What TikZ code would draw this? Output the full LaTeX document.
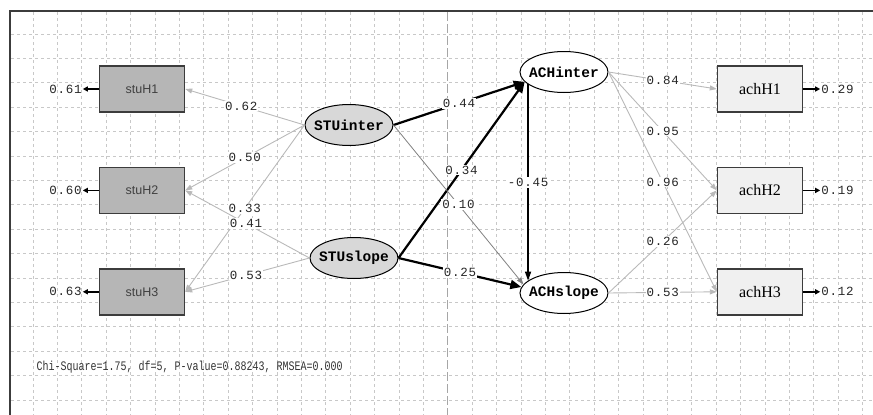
\documentclass[tikz,border=0pt]{standalone}
\usepackage{fontspec}
\setmainfont{Liberation Serif}
\newfontfamily\monofont{Liberation Mono}
\newfontfamily\valfont[LetterSpace=6]{Liberation Mono}
\newfontfamily\boxfont{Liberation Sans}
\newfontfamily\achfont{Liberation Serif}
\usetikzlibrary{arrows.meta, positioning, shapes.geometric}

\definecolor{stufill}{RGB}{182,182,182}
\definecolor{latfill}{RGB}{216,216,216}
\definecolor{achfill}{RGB}{240,240,240}
\definecolor{boxline}{RGB}{60,60,60}
\definecolor{gridcol}{RGB}{200,200,200}
\definecolor{loadcol}{RGB}{185,185,185}

\begin{document}
\begin{tikzpicture}[x=1pt, y=-1pt]
        % Styles
        \tikzstyle{gridline} = [gridcol, line width=0.7pt, dash pattern=on 3pt off 3pt]
        \tikzstyle{stuind} = [draw=boxline, line width=1.4pt, fill=stufill, minimum width=85pt, minimum height=46pt,
                              text=black!75, font={\boxfont\fontsize{12.5}{14}\selectfont}]
        \tikzstyle{achind} = [draw=boxline, line width=1.4pt, fill=achfill, minimum width=85pt, minimum height=46pt,
                              font={\achfont\fontsize{16}{18}\selectfont}]
        \tikzstyle{latent} = [draw, ellipse, line width=1pt, minimum width=88pt, minimum height=41pt,
                              inner xsep=-7pt, inner ysep=0pt,
                              font={\monofont\bfseries\fontsize{14.5}{16}\selectfont}]
        \tikzstyle{coef} = [fill=white, inner sep=1pt, text=black!85, font={\valfont\fontsize{12.5}{14}\selectfont}]
        \tikzstyle{errval} = [inner sep=1pt, text=black!85, font={\valfont\fontsize{12.5}{14}\selectfont}]
        \tikzstyle{loadarrow} = [-{Triangle[length=7pt, width=5pt]}, loadcol, line width=0.9pt]
        \tikzstyle{patharrow} = [-{Triangle[length=11pt, width=9pt]}, black, line width=2.2pt]
        \tikzstyle{thinpath} = [-{Triangle[length=7pt, width=5pt]}, gray, line width=0.8pt]
        \tikzstyle{errarrow} = [-{Triangle[length=5pt, width=5pt]}, black, line width=1.6pt]

        \useasboundingbox (0,0) rectangle (873,415);

        % Background grid and frame
        \foreach \gx in {0,...,34} {
            \draw[gridline] ({33+24.4*\gx},12) -- ({33+24.4*\gx},415);
        }
        \foreach \gy in {0,...,15} {
            \draw[gridline] (11,{34+24.4*\gy}) -- (873,{34+24.4*\gy});
        }
        \draw[gray!70, line width=0.8pt, dash pattern=on 9pt off 3pt] (447.8,12) -- (447.8,415);
        \draw[boxline, line width=1.2pt] (10,415) -- (10,11) -- (873,11);

        % Student indicators - stacked with below=... of
        \node[stuind] (stuH1) at (142,89) {stuH1};
        \node[stuind, below=54pt of stuH1] (stuH2) {stuH2};
        \node[stuind, below=54pt of stuH2] (stuH3) {stuH3};

        % Achievement indicators
        \node[achind] (achH1) at (760,89) {achH1};
        \node[achind, below=54pt of achH1] (achH2) {achH2};
        \node[achind, below=54pt of achH2] (achH3) {achH3};

        % Latent growth factors
        \node[latent, fill=latfill] (STUinter) at (349,125) {STUinter};
        \node[latent, fill=latfill] (STUslope) at (354,258) {STUslope};
        \node[latent, fill=white] (ACHinter) at (564,72) {ACHinter};
        \node[latent, fill=white] (ACHslope) at (564,293) {ACHslope};

        % Error variances
        \node[errval, left=16pt of stuH1] (e1) {0.61};
        \node[errval, left=16pt of stuH2] (e2) {0.60};
        \node[errval, left=16pt of stuH3] (e3) {0.63};
        \node[errval, right=17pt of achH1] (d1) {0.29};
        \node[errval, right=17pt of achH2] (d2) {0.19};
        \node[errval, right=17pt of achH3] (d3) {0.12};
        \draw[errarrow] (stuH1.west) -- (e1.east);
        \draw[errarrow] (stuH2.west) -- (e2.east);
        \draw[errarrow] (stuH3.west) -- (e3.east);
        \draw[errarrow] (achH1.east) -- (d1.west);
        \draw[errarrow] (achH2.east) -- (d2.west);
        \draw[errarrow] (achH3.east) -- (d3.west);

        % Loadings of the student factors
        \draw[loadarrow] (STUinter.west) -- node[coef, pos=0.53] {0.62} (stuH1.east);
        \draw[loadarrow] (STUinter.west) -- node[coef, pos=0.5] {0.50} (stuH2.east);
        \draw[loadarrow] (STUinter.west) -- node[coef, pos=0.5] {0.33} (stuH3.east);
        \draw[loadarrow] (STUslope.west) -- node[coef, pos=0.51] {0.41} (stuH2.east);
        \draw[loadarrow] (STUslope.west) -- node[coef, pos=0.51] {0.53} (stuH3.east);

        % Loadings of the achievement factors
        \draw[loadarrow] (ACHinter.east) -- node[coef] {0.84} (achH1.west);
        \draw[loadarrow] (ACHinter.east) -- node[coef] {0.95} (achH2.west);
        \draw[loadarrow] (ACHinter.east) -- node[coef] {0.96} (achH3.west);
        \draw[loadarrow] (ACHslope.east) -- node[coef] {0.26} (achH2.west);
        \draw[loadarrow] (ACHslope.east) -- node[coef] {0.53} (achH3.west);

        % Structural paths
        \draw[patharrow] (STUinter.east) -- node[coef] {0.44} (ACHinter.194);
        \draw[patharrow] (STUslope.east) -- node[coef] {0.34} (ACHinter.194);
        \draw[thinpath] (STUinter.east) -- node[coef] {0.10} (ACHslope.168);
        \draw[patharrow] (STUslope.east) -- node[coef] {0.25} (ACHslope.172);
        \draw[-{Triangle[length=9pt, width=6pt]}, black, line width=1.5pt]
            (ACHinter.199) -- node[coef] {-0.45} (ACHslope.161);

        % Fit statistics
        \node[anchor=west, text=black!80, font={\monofont\fontsize{10}{12}\selectfont}] (fitstats) at (33,367)
            {\scalebox{1}[1.3]{Chi-Square=1.75, df=5, P-value=0.88243, RMSEA=0.000}};
\end{tikzpicture}
\end{document}
